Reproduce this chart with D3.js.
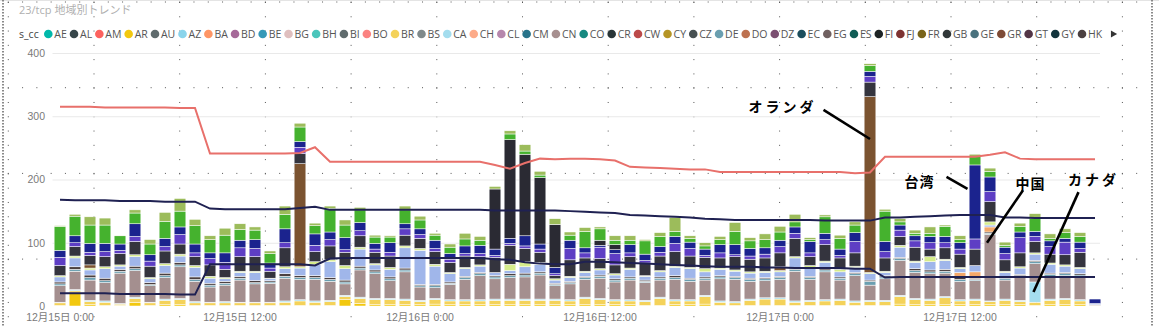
<!DOCTYPE html>
<html>
<head>
<meta charset="utf-8">
<title>23/tcp 地域別トレンド</title>
<script src="https://cdn.jsdelivr.net/npm/d3@7"></script>
<style>
  html, body { margin: 0; padding: 0; background: #fff; }
  svg { display: block; }
  text { font-family: "Segoe UI", "Open Sans", "Noto Sans CJK JP", sans-serif; }
  .axis-label { font-family: "Segoe UI", "Liberation Sans", "Noto Sans CJK JP", sans-serif; }
</style>
</head>
<body>
<div id="chart-area"></div>
<script>
// ---------- data ----------
var startHour = new Date(2023, 11, 15, 0)
var hours = d3.timeHour.range(startHour, d3.timeHour.offset(startHour, 70))

var tickHours = [0, 12, 24, 36, 48, 60]
var tickLabels = ["12月15日 0:00", "12月15日 12:00", "12月16日 0:00", "12月16日 12:00", "12月17日 0:00", "12月17日 12:00"]
var yTicks = [0, 100, 200, 300, 400]

var legendCodes = ["AE","AL","AM","AR","AU","AZ","BA","BD","BE","BG","BH","BI","BO","BR","BS","CA","CH","CL","CM","CN",
                   "CO","CR","CW","CY","CZ","DE","DO","DZ","EC","EG","ES","FI","FJ","FR","GB","GE","GR","GT","GY","HK"]
var legendColors = ["#01B8AA","#374649","#FD625E","#F2C80F","#5F6B6D","#8AD4EB","#FE9666","#A66999","#3599B8","#DFBFBF",
                    "#4AC5BB","#5F6B6D","#FB8281","#F4D25A","#7F898A","#A4DDEE","#FDAB89","#B687AC","#28738A","#A78F8F",
                    "#168980","#293537","#BB4A4A","#B59525","#475052","#6A9FB0","#BD7150","#7B4F71","#1B4D5C","#706060",
                    "#0F5C55","#1C2325","#7D3231","#796419","#303738","#49727E","#7E4B36","#523546","#12343D","#4B4040"]

// hourly counts per country (stack order = legend order)
var arVals = [1,22,2,1,1,6,1,2,2,1, 1,1,1,1,1,1,1,1,1,10, 4,2,2,2,2,3,2,2,2,2, 2,2,2,2,2,2,2,2,2,1, 1,2,2,3,1,1,1,1,1,1, 1,1,1,1,1,1,3,2,2,2, 2,2,2,2,2,1,2,2,2,0]
var brVals = [4,2,5,5,2,6,4,7,8,4, 4,4,4,4,4,5,7,5,6,5, 8,8,8,7,5,7,6,6,6,7, 7,7,7,7,6,10,8,6,6,6, 11,6,6,12,5,4,8,10,10,5, 6,7,8,5,6,6,12,8,7,11, 6,7,5,7,5,5,7,8,6,1]
var caVals = [1,2,2,2,1,2,1,2,2,2, 1,2,1,1,1,2,2,2,2,2, 2,2,2,2,2,2,2,2,2,2, 2,2,2,2,2,2,2,2,2,2, 2,2,2,2,2,2,2,2,2,2, 2,2,2,2,2,2,2,2,2,2, 2,2,1,2,2,32,2,2,2,0]
var cnVals = [26,29,32,29,48,42,26,34,50,32, 24,26,35,29,30,36,32,34,30,18, 43,39,28,43,21,17,24,32,38,32, 34,35,38,21,25,28,32,28,31,28, 27,32,29,24,35,35,28,27,29,47, 33,44,30,40,24,34,55,41,40,37, 29,29,105,30,36,29,36,36,36,1]
var deVals = [3,3,4,3,3,3,2,3,3,3, 3,3,3,2,2,3,3,3,3,3, 3,3,3,3,2,3,2,3,3,3, 3,3,3,2,2,3,3,3,3,2, 3,3,3,3,3,3,3,3,3,3, 3,3,3,3,6,3,3,3,3,3, 3,2,2,3,3,3,3,3,3,0]
var hkVals = [3,4,4,4,3,4,3,4,4,4, 3,3,3,3,2,4,3,3,3,3, 3,3,3,3,2,2,2,2,2,2, 3,3,2,2,2,2,2,2,2,2, 2,3,2,2,2,2,2,2,2,2, 2,2,2,2,2,2,2,3,3,3, 3,2,2,2,2,2,2,2,2,0]
var idVals = [0,0,0,0,0,0,0,0,0,0, 0,0,0,0,0,0,0,0,0,0, 0,0,0,0,0,0,0,0,0,0, 0,0,0,0,0,0,0,0,0,0, 0,0,0,0,0,0,0,0,0,0, 0,0,0,0,0,0,0,0,0,0, 8,10,8,0,0,0,0,0,0,0]
var inVals = [8,14,8,15,5,15,6,12,10,15, 8,4,6,13,3,8,12,18,25,18, 27,8,12,32,54,29,13,12,10,5, 5,10,12,5,6,6,8,6,12,6, 8,13,15,8,10,8,8,8,7,16, 12,10,8,8,10,5,16,10,13,14, 6,10,3,7,10,10,14,10,8,2]
var jpVals = [2,3,3,3,2,3,2,3,3,3, 3,2,2,2,1,3,2,4,3,5, 3,2,3,3,3,3,2,2,2,0, 10,8,3,2,2,2,2,2,2,1, 2,2,2,5,2,2,2,2,2,2, 5,2,4,2,2,2,3,2,8,2, 2,0,5,2,2,2,2,2,2,0]
var nlVals = [0,0,5,0,0,0,0,0,0,0, 0,0,0,0,0,0,163,0,0,0, 0,0,0,0,0,0,0,0,0,0, 0,0,0,0,0,0,0,0,0,0, 0,0,0,0,0,0,0,0,6,0, 0,0,0,0,278,0,0,0,0,0, 0,0,0,0,0,0,0,0,0,0]
var ruVals = [16,15,15,16,18,21,18,20,16,14, 18,13,23,23,11,30,16,16,22,21, 18,18,18,17,16,20,16,18,13,24, 30,21,16,5,26,21,16,14,18,20, 23,23,18,18,16,21,20,21,22,29, 14,26,18,21,23,21,14,22,12,18, 21,26,32,18,22,18,14,16,24,0]
var sgVals = [13,6,5,8,5,8,8,7,15,6, 10,11,14,13,5,8,10,10,10,4, 8,5,6,10,6,5,5,4,5,3, 3,4,5,3,18,8,18,18,6,4, 6,13,12,3,8,3,5,6,10,8, 6,8,4,18,9,10,10,10,10,8, 8,16,16,10,24,8,12,20,6,0]
var twVals = [11,11,14,13,10,20,10,13,12,14, 9,15,12,14,8,22,9,18,12,19, 13,9,15,8,9,13,9,12,13,10, 8,16,8,10,13,8,3,6,13,10, 9,11,10,10,13,16,12,10,10,10, 18,10,10,14,8,16,8,8,10,10, 10,117,23,10,9,8,9,6,10,7]
var uaVals = [0,0,0,0,0,0,0,0,0,0, 0,0,0,0,0,0,0,0,0,0, 0,0,0,0,0,0,0,0,0,95, 156,129,105,68,0,0,8,8,0,0, 0,0,0,0,0,0,0,0,0,0, 0,0,0,0,0,0,0,0,0,0, 0,0,0,0,0,0,0,0,0,0]
var usVals = [38,31,29,29,13,17,17,27,25,29, 21,28,17,15,15,23,23,13,37,20, 20,10,9,22,14,8,10,11,8,0, 9,5,4,0,8,26,18,7,7,21, 16,8,6,5,8,21,12,13,13,8, 3,26,17,12,9,48,5,4,5,16, 5,13,9,3,9,20,4,9,9,0]
var vnVals = [1,3,13,11,1,5,7,14,20,10, 6,11,9,5,4,13,6,4,4,8, 4,3,2,6,6,3,5,9,6,4, 5,10,6,9,5,6,3,7,7,2, 6,22,4,5,5,14,5,9,9,12, 3,3,5,5,3,3,5,5,10,2, 6,4,5,5,5,8,7,6,6,0]

var stackKeys = ["AR","BR","CA","CN","DE","HK","ID","IN","JP","NL","RU","SG","TW","UA","US","VN"]
var stackValues = [arVals, brVals, caVals, cnVals, deVals, hkVals, idVals, inVals, jpVals, nlVals, ruVals, sgVals, twVals, uaVals, usVals, vnVals]
var stackColors = ["#F2C80F","#F4D25A","#A4DDEE","#A48F8F","#6A9FB0","#4B4040","#F3A86A","#A0B6EA","#D6EC8C","#7B5330",
                   "#34343E","#5E3EC4","#1B238E","#2A2A33","#45B22E","#9CBC5B"]

// line measures
var redLine = [315,315,315,314,314,314,314,314,313,313, 241,241,241,241,241,241,242,251,228,228, 228,228,228,228,228,228,228,228,228,223, 217,226,233,232,233,233,232,230,220,219, 218,217,216,216,212,212,212,212,212,212, 212,212,212,210,211,236,236,236,236,236, 236,236,239,243,233,232,232,232,232,232]
var navyUpper = [168,167,167,167,166,166,166,165,165,165, 154,153,153,153,153,153,155,157,152,152, 152,152,152,152,152,152,152,152,152,151, 151,151,151,151,150,149,148,147,144,143, 142,141,140,138,137,136,136,136,136,136, 136,135,135,135,135,140,140,141,142,143, 144,144,144,140,140,139,139,139,139,139]
var navyLower = [20,20,20,20,19,19,19,19,18,18, 66,66,66,66,66,66,66,64,75,76, 76,76,76,76,76,76,76,76,76,74, 73,69,67,66,66,70,70,69,68,67, 66,65,64,63,62,62,62,61,61,60, 60,60,60,59,59,45,46,46,46,46, 46,46,46,46,46,46,46,46,46,46]

// callouts, in (hour index, count) space
var notes = [
  {label: "オランダ", at: [45.9, 306], from: [50.9, 310], to: [54.0, 264]},
  {label: "台湾",     at: [56.3, 188], from: [59.1, 204], to: [60.5, 185]},
  {label: "中国",     at: [63.7, 185], from: [64.2, 183], to: [61.8, 100]},
  {label: "カナダ",   at: [67.2, 191], from: [67.9, 180], to: [64.9, 22]}
]

// ---------- layout ----------
var W = 1159, H = 327
var plot = {left: 52.5, right: 1102.5, top: 53, bottom: 306}

var table = hours.map(function(h, i){
    var row = {hour: h, i: i}
    stackKeys.forEach(function(k, j){ row[k] = stackValues[j][i] })
    return row
})

var x = d3.scaleBand()
    .domain(d3.range(hours.length))
    .range([plot.left, plot.right])
    .paddingInner(0.22)
    .paddingOuter(0.11)
var bw = x.bandwidth()
var xc = d3.scaleLinear()
    .domain([0, hours.length - 1])
    .range([x(0) + bw / 2, x(hours.length - 1) + bw / 2])

var y = d3.scaleLinear()
    .domain([0, 400])
    .range([plot.bottom, plot.top])

var color = d3.scaleOrdinal().domain(stackKeys).range(stackColors)

var svg = d3.select("#chart-area")
    .append("svg")
    .attr("width", W)
    .attr("height", H)

// canvas snap grid (dots) + frame
var gridStep = 85.7, dotGap = gridStep / 6
var canvas = svg.append("g").attr("class", "canvas-grid")
d3.range(0, 4).forEach(function(k){
    canvas.append("line")
        .attr("x1", 7.8).attr("x2", 1148)
        .attr("y1", 2 + k * gridStep).attr("y2", 2 + k * gridStep)
        .attr("stroke", "#555").attr("stroke-width", 1)
        .attr("stroke-dasharray", "1," + (dotGap - 1))
})
d3.range(0, 14).forEach(function(k){
    canvas.append("line")
        .attr("x1", 7.8 + k * gridStep + 0.5).attr("x2", 7.8 + k * gridStep + 0.5)
        .attr("y1", 2).attr("y2", H)
        .attr("stroke", "#555").attr("stroke-width", 1)
        .attr("stroke-dasharray", "1," + (dotGap - 1))
})
svg.append("line").attr("x1", 0).attr("x2", W).attr("y1", 0.5).attr("y2", 0.5)
    .attr("stroke", "#e4e4e4")
;[3, 1152].forEach(function(xx){
    svg.append("line").attr("x1", xx).attr("x2", xx).attr("y1", 0).attr("y2", H)
        .attr("stroke", "#8a8a8a").attr("stroke-width", 2).attr("stroke-dasharray", "1.5,1.5")
})

// horizontal gridlines
var gridCall = d3.axisLeft(y).tickValues(yTicks.slice(1)).tickSize(-(1100 - plot.left)).tickFormat("")
svg.append("g")
    .attr("class", "grid")
    .attr("transform", "translate(" + plot.left + ",0)")
    .call(gridCall)
    .call(function(g){ g.select(".domain").remove() })
    .selectAll("line").attr("stroke", "#e9e9e9")

// stacked columns
var layers = d3.stack().keys(stackKeys)(table)
svg.append("g").attr("class", "bars")
    .selectAll("g")
    .data(layers)
    .enter().append("g")
    .attr("fill", function(d){ return color(d.key) })
    .selectAll("rect")
    .data(function(d){ return d.filter(function(s){ return s[1] > s[0] }) })
    .enter().append("rect")
    .attr("x", function(d){ return x(d.data.i) })
    .attr("y", function(d){ return y(d[1]) })
    .attr("width", bw)
    .attr("height", function(d){ return y(d[0]) - y(d[1]) })
    .attr("stroke", "#fff")
    .attr("stroke-width", 0.5)

// lines
var lineGen = d3.line()
    .x(function(d, i){ return xc(i) })
    .y(function(d){ return y(d) })
svg.append("path").datum(redLine)
    .attr("d", lineGen).attr("fill", "none")
    .attr("stroke", "#E8706B").attr("stroke-width", 2)
svg.append("path").datum(navyUpper)
    .attr("d", lineGen).attr("fill", "none")
    .attr("stroke", "#1F2152").attr("stroke-width", 2)
svg.append("path").datum(navyLower)
    .attr("d", lineGen).attr("fill", "none")
    .attr("stroke", "#1F2152").attr("stroke-width", 2)

// axes
var yAxisCall = d3.axisLeft(y).tickValues(yTicks).tickSize(0).tickPadding(7.5)
svg.append("g")
    .attr("class", "y-axis")
    .attr("transform", "translate(" + plot.left + ",0)")
    .call(yAxisCall)
    .call(function(g){ g.select(".domain").remove() })
    .selectAll("text")
        .attr("class", "axis-label")
        .attr("fill", "#7a7a7a")
        .style("font-size", "10.5px")

var xAxisCall = d3.axisBottom(x)
    .tickValues(tickHours)
    .tickSize(0)
    .tickPadding(7.5)
    .tickFormat(function(d, i){ return tickLabels[i] })
svg.append("g")
    .attr("class", "x axis")
    .attr("transform", "translate(0," + plot.bottom + ")")
    .call(xAxisCall)
    .call(function(g){ g.select(".domain").remove() })
    .selectAll("text")
        .attr("class", "axis-label")
        .attr("fill", "#7a7a7a")
        .style("font-size", "10.5px")

// callouts
var noteG = svg.append("g").attr("class", "notes")
notes.forEach(function(n){
    noteG.append("line")
        .attr("x1", xc(n.from[0])).attr("y1", y(n.from[1]))
        .attr("x2", xc(n.to[0])).attr("y2", y(n.to[1]))
        .attr("stroke", "#000").attr("stroke-width", 2.6)
    noteG.append("text")
        .attr("x", xc(n.at[0])).attr("y", y(n.at[1]))
        .attr("fill", "#000")
        .style("font-family", "'Noto Sans CJK JP', sans-serif")
        .style("font-weight", "700")
        .style("font-size", "14px")
        .style("letter-spacing", n.label.length > 2 ? "3px" : "1px")
        .text(n.label)
})

// title
svg.append("text")
    .attr("x", 19).attr("y", 14)
    .attr("fill", "#b0b0b0")
    .style("font-size", "11px")
    .text("23/tcp 地域別トレンド")

// legend
var legend = svg.append("g").attr("class", "legend")
legend.append("text")
    .attr("x", 19).attr("y", 38)
    .attr("fill", "#444")
    .style("font-size", "10.5px")
    .text("s_cc")
var items = legend.selectAll("g.item")
    .data(legendCodes)
    .enter().append("g").attr("class", "item")
items.append("circle")
    .attr("r", 4.3)
    .attr("cy", 34)
    .attr("fill", function(d, i){ return legendColors[i] })
items.append("text")
    .attr("y", 38)
    .attr("fill", "#555")
    .style("font-size", "10.5px")
    .text(function(d){ return d })
var widths = []
items.select("text").each(function(){ widths.push(this.getComputedTextLength()) })
var firstX = 48.3, lastX = 1082
var textOff = 6
var gap = (lastX - firstX - d3.sum(widths.slice(0, -1)) - textOff * (widths.length - 1)) / (widths.length - 1)
var cx = firstX
items.each(function(d, i){
    var g = d3.select(this)
    g.select("circle").attr("cx", cx)
    g.select("text").attr("x", cx + textOff)
    cx += textOff + widths[i] + gap
})
legend.append("path")
    .attr("d", d3.symbol(d3.symbolTriangle, 22))
    .attr("transform", "translate(1113,34) rotate(90)")
    .attr("fill", "#333")
</script>
</body>
</html>
